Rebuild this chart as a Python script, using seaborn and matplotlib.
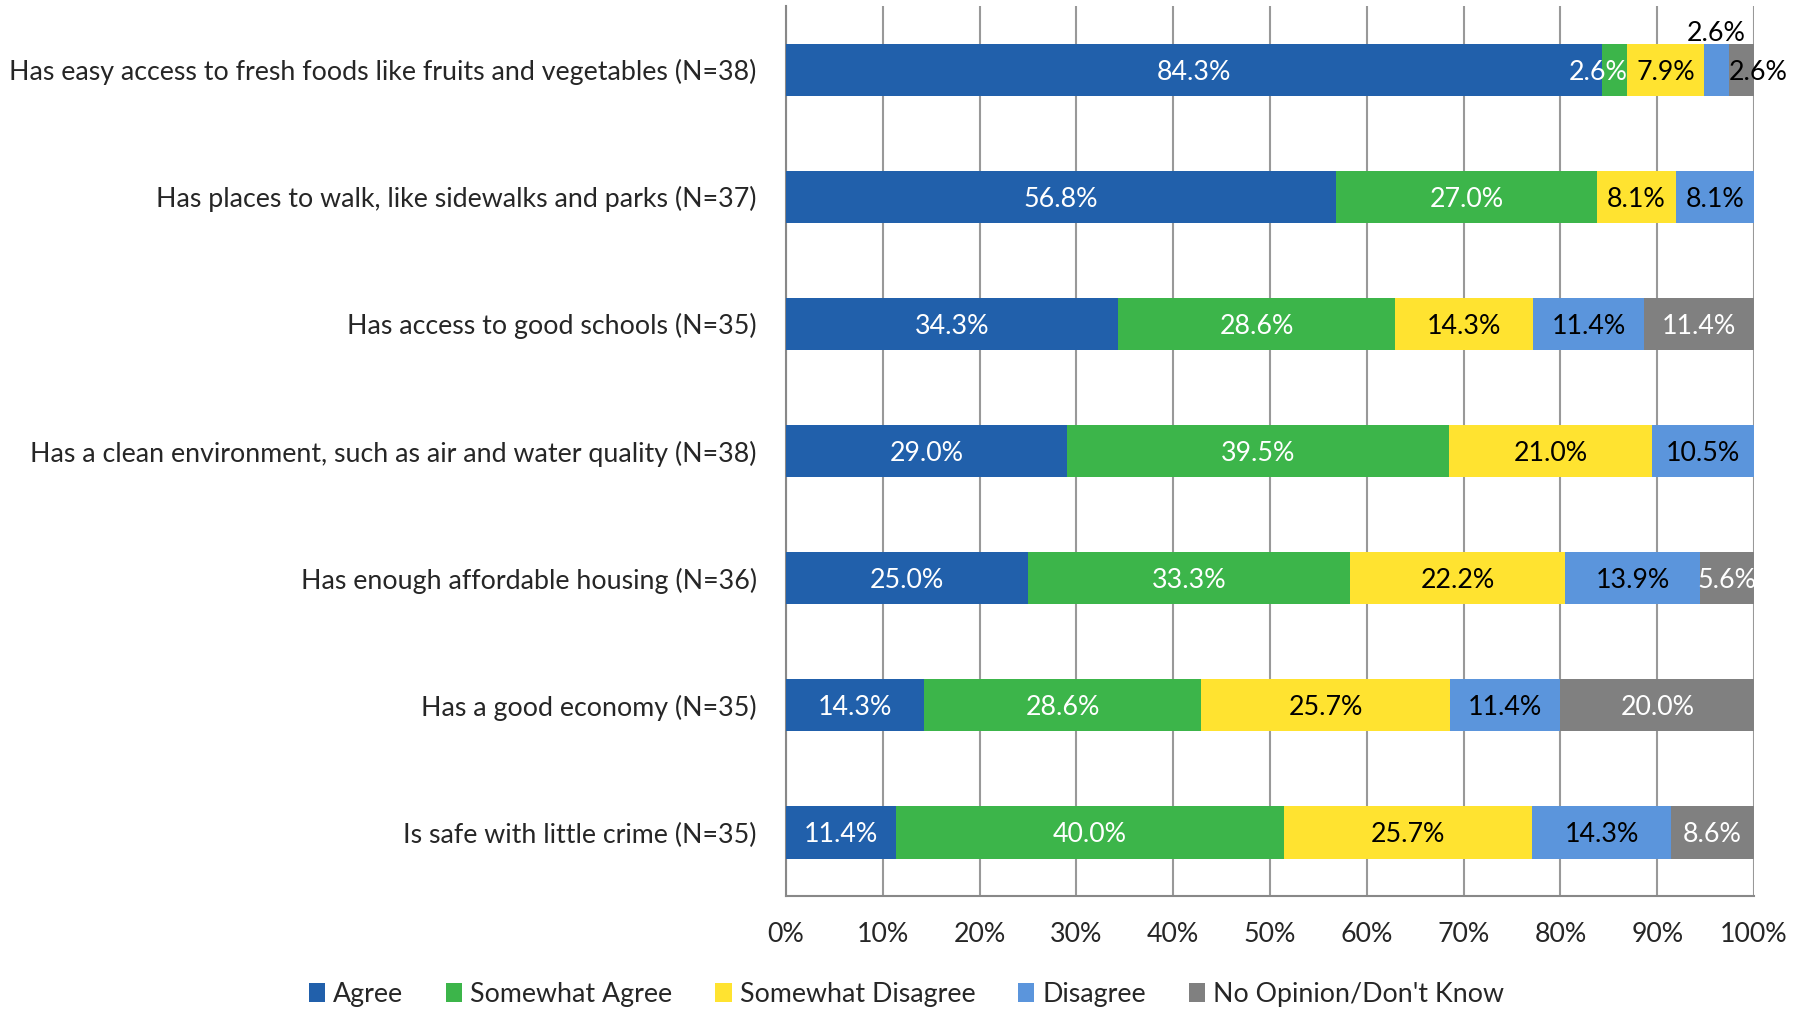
import numpy as np
import pandas as pd
import matplotlib
matplotlib.use("Agg")
import matplotlib.pyplot as plt
import seaborn as sns
from matplotlib.patches import Patch
from matplotlib.ticker import FixedLocator

# data (percent)
questions = [
    "Has easy access to fresh foods like fruits and vegetables (N=38)",
    "Has places to walk, like sidewalks and parks (N=37)",
    "Has access to good schools (N=35)",
    "Has a clean environment, such as air and water quality (N=38)",
    "Has enough affordable housing (N=36)",
    "Has a good economy (N=35)",
    "Is safe with little crime (N=35)",
]
agree = [84.3, 56.8, 34.3, 29.0, 25.0, 14.3, 11.4]
somewhat_agree = [2.6, 27.0, 28.6, 39.5, 33.3, 28.6, 40.0]
somewhat_disagree = [7.9, 8.1, 14.3, 21.0, 22.2, 25.7, 25.7]
disagree = [2.6, 8.1, 11.4, 10.5, 13.9, 11.4, 14.3]
no_opinion = [2.6, 0.0, 11.4, 0.0, 5.6, 20.0, 8.6]

series_names = ["Agree", "Somewhat Agree", "Somewhat Disagree", "Disagree", "No Opinion/Don't Know"]
series_vals = [agree, somewhat_agree, somewhat_disagree, disagree, no_opinion]
colors = ["#2160AB", "#3CB54A", "#FFE330", "#5B95DC", "#808080"]
text_colors = ["white", "white", "black", "black", "white"]

sns.set_style("white")
plt.rcParams["font.family"] = ["Lato", "DejaVu Sans"]
fs = 19.3

df = pd.DataFrame({"question": questions})
for name, vals in zip(series_names, series_vals):
    df[name] = vals
cum = df[series_names].cumsum(axis=1)

fig = plt.figure(figsize=(18.13, 10.11), dpi=100)
ax = fig.add_axes([0.4335, 0.1137, 0.534, 0.8803])

# stacked bars: draw cumulative totals from last series to first
for name, col in reversed(list(zip(series_names, colors))):
    sns.barplot(x=cum[name], y=df["question"], color=col, width=0.41, saturation=1,
                orient="h", ax=ax, zorder=3, linewidth=0)

# value labels
for i, row in df.iterrows():
    for j, name in enumerate(series_names):
        v = row[name]
        if v <= 0:
            continue
        xc = cum.loc[i, name] - v / 2
        yc = i
        tc = text_colors[j]
        if i == 0 and name == "Somewhat Agree":
            xc -= 1.7
        elif i == 0 and name == "Disagree":
            yc -= 0.30
            tc = "black"
        elif i == 0 and name.startswith("No Opinion"):
            xc += 1.7
            tc = "black"
        ax.text(xc, yc, f"{v:.1f}%", ha="center", va="center_baseline", color=tc,
                fontsize=fs, zorder=5)

ax.set_xlim(0, 100)
ax.set_ylim(6.5, -0.5)
ax.set_xticks(np.arange(0, 101, 10))
ax.set_xticklabels([f"{t}%" for t in range(0, 101, 10)], fontsize=fs)
ax.set_xlabel("")
ax.set_ylabel("")
ax.tick_params(axis="y", which="major", length=0, pad=21, labelsize=fs)
ax.yaxis.set_minor_locator(FixedLocator(np.arange(-0.5, 7, 1)))
ax.tick_params(axis="y", which="minor", length=7, color="#888888", width=1.5, direction="out")
ax.tick_params(axis="x", which="major", length=8, color="#888888", width=1.5, pad=11, direction="out")
ax.xaxis.grid(True, color="#999999", linewidth=1.5, zorder=0)
ax.set_axisbelow(True)
sns.despine(ax=ax, top=True, right=True)
for s in ["left", "bottom"]:
    ax.spines[s].set_color("#888888")
    ax.spines[s].set_linewidth(1.5)

handles = [Patch(facecolor=c, edgecolor="none", label=n) for n, c in zip(series_names, colors)]
fig.legend(handles=handles, loc="lower center", ncol=5, frameon=False, fontsize=fs,
           bbox_to_anchor=(0.5, -0.02), handlelength=0.6, handleheight=0.7,
           handletextpad=0.3, columnspacing=1.6)

fig.savefig("out.png", dpi=100)
